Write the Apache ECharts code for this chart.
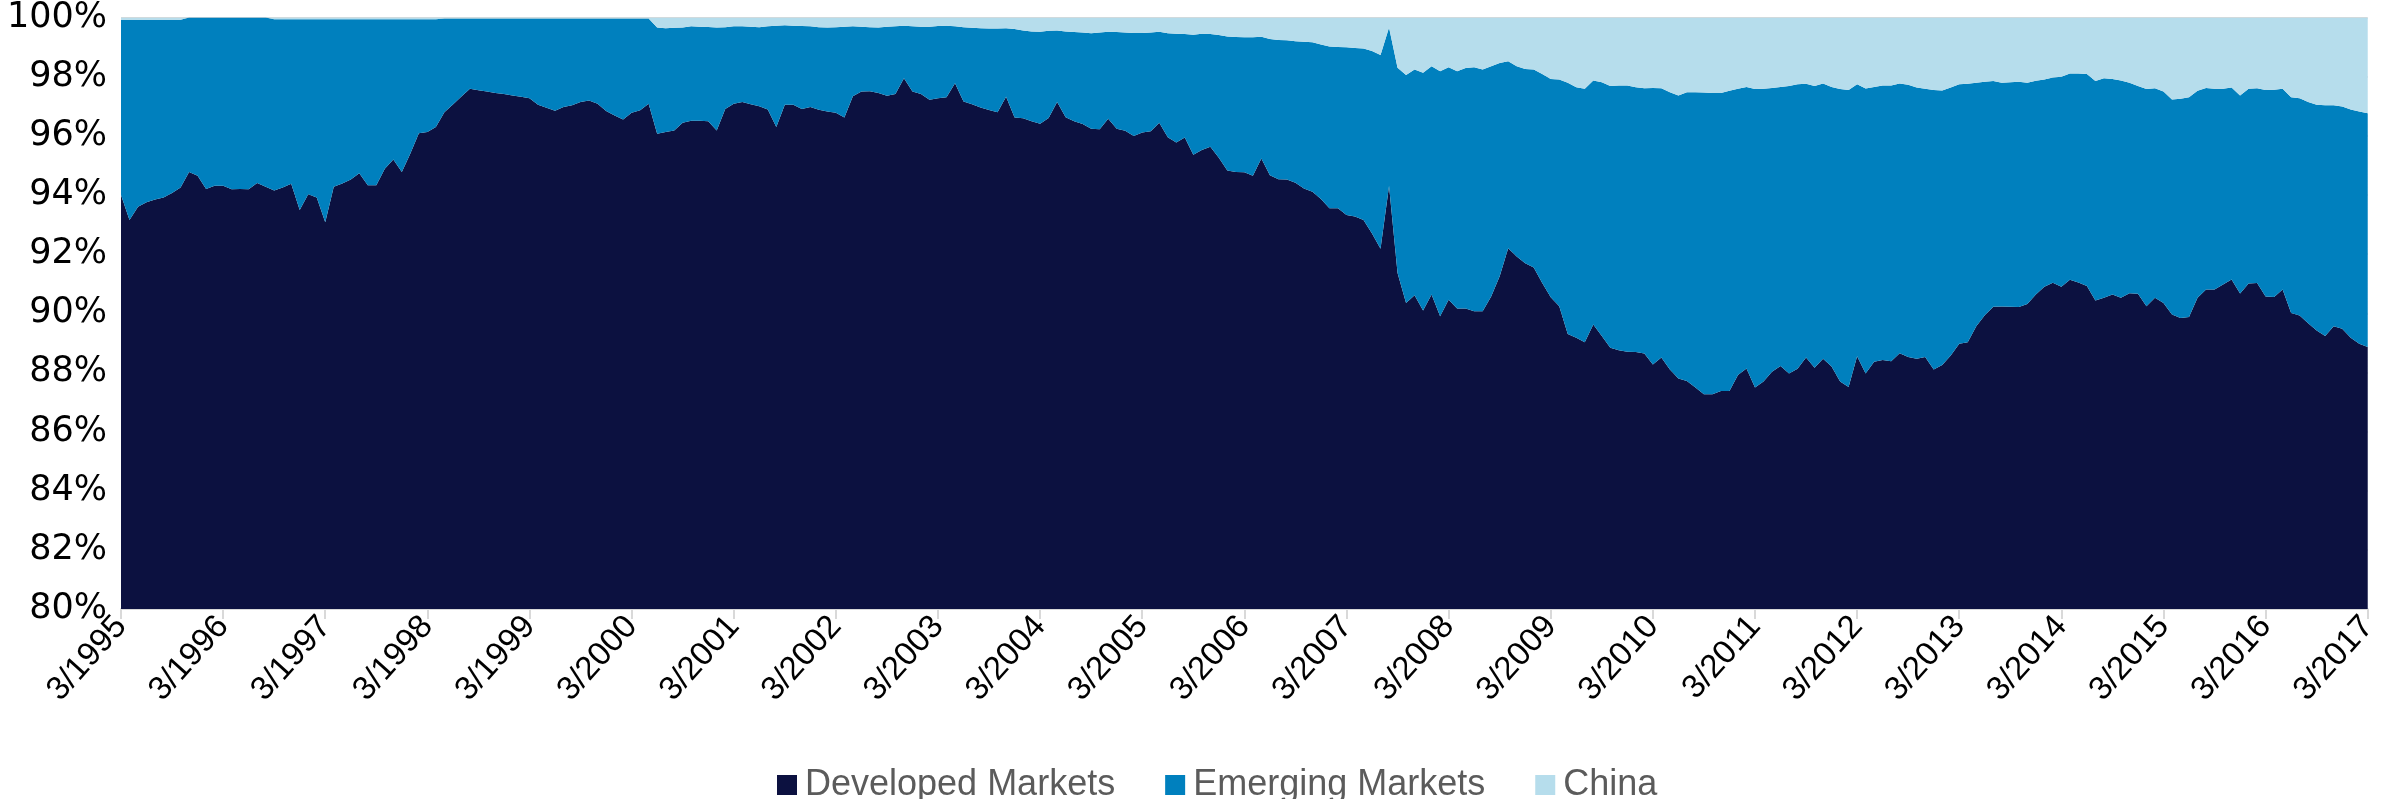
<!DOCTYPE html>
<html>
<head>
<meta charset="utf-8">
<script src="https://cdn.jsdelivr.net/npm/echarts@6/dist/echarts.min.js"></script>
<style>
  html, body { margin: 0; padding: 0; background: #fff; }
  #container { width: 2382px; height: 799px; }
</style>
</head>
<body>
<div id="container"></div>
<script>
// month labels 3/1995 .. 3/2017
var months = [];
var yy = 1995, mm = 3;
while (months.length < 265) {
    months.push(mm + '/' + yy);
    mm++;
    if (mm > 12) { mm = 1; yy++; }
}

// share of index, %
var developed = [
    94.00, 93.15, 93.60, 93.75, 93.85, 93.91, 94.07, 94.25, 94.78, 94.65, 94.20, 94.31,
    94.31, 94.19, 94.20, 94.19, 94.40, 94.28, 94.15, 94.25, 94.38, 93.49, 94.02, 93.91,
    93.08, 94.28, 94.39, 94.52, 94.73, 94.33, 94.33, 94.89, 95.20, 94.78, 95.40, 96.09,
    96.13, 96.30, 96.80, 97.06, 97.33, 97.59, 97.54, 97.50, 97.45, 97.41, 97.36, 97.32,
    97.27, 97.05, 96.95, 96.85, 96.97, 97.03, 97.14, 97.19, 97.08, 96.84, 96.69, 96.55,
    96.78, 96.86, 97.08, 96.07, 96.13, 96.18, 96.44, 96.51, 96.51, 96.49, 96.18, 96.91,
    97.08, 97.14, 97.07, 97.00, 96.89, 96.30, 97.05, 97.05, 96.91, 96.97, 96.88, 96.82,
    96.78, 96.62, 97.34, 97.50, 97.51, 97.45, 97.35, 97.41, 97.95, 97.50, 97.41, 97.22,
    97.27, 97.30, 97.78, 97.16, 97.07, 96.96, 96.87, 96.80, 97.32, 96.62, 96.59, 96.49,
    96.41, 96.60, 97.14, 96.63, 96.49, 96.40, 96.24, 96.22, 96.58, 96.24, 96.17, 95.99,
    96.11, 96.15, 96.44, 95.95, 95.77, 95.94, 95.36, 95.52, 95.63, 95.26, 94.83, 94.78,
    94.77, 94.65, 95.23, 94.67, 94.53, 94.52, 94.41, 94.22, 94.11, 93.86, 93.55, 93.55,
    93.32, 93.27, 93.15, 92.70, 92.18, 94.30, 91.36, 90.35, 90.61, 90.09, 90.63, 89.90,
    90.46, 90.16, 90.16, 90.07, 90.07, 90.57, 91.25, 92.20, 91.92, 91.69, 91.55, 91.02,
    90.54, 90.24, 89.30, 89.17, 89.02, 89.62, 89.23, 88.83, 88.75, 88.70, 88.69, 88.64,
    88.27, 88.50, 88.10, 87.79, 87.71, 87.49, 87.26, 87.26, 87.37, 87.37, 87.91, 88.13,
    87.49, 87.69, 88.02, 88.22, 87.96, 88.12, 88.50, 88.16, 88.46, 88.20, 87.69, 87.51,
    88.55, 87.96, 88.36, 88.42, 88.38, 88.65, 88.52, 88.46, 88.52, 88.10, 88.25, 88.57,
    88.97, 89.02, 89.56, 89.93, 90.22, 90.23, 90.22, 90.21, 90.31, 90.63, 90.90, 91.03,
    90.90, 91.13, 91.04, 90.92, 90.43, 90.52, 90.63, 90.52, 90.68, 90.66, 90.24, 90.52,
    90.35, 89.96, 89.84, 89.87, 90.52, 90.80, 90.80, 90.97, 91.14, 90.67, 91.01, 91.02,
    90.57, 90.55, 90.80, 90.01, 89.92, 89.66, 89.42, 89.23, 89.56, 89.48, 89.17, 88.97,
    88.86
];
var emerging = [
    5.92, 6.77, 6.32, 6.17, 6.07, 6.01, 5.85, 5.67, 5.22, 5.35, 5.80, 5.69,
    5.69, 5.81, 5.80, 5.81, 5.60, 5.72, 5.79, 5.69, 5.56, 6.45, 5.92, 6.03,
    6.86, 5.66, 5.55, 5.42, 5.21, 5.61, 5.61, 5.05, 4.74, 5.16, 4.54, 3.85,
    3.81, 3.64, 3.17, 2.91, 2.64, 2.38, 2.43, 2.47, 2.52, 2.56, 2.61, 2.65,
    2.70, 2.92, 3.02, 3.12, 3.00, 2.94, 2.83, 2.78, 2.89, 3.13, 3.28, 3.42,
    3.19, 3.11, 2.89, 3.59, 3.51, 3.47, 3.22, 3.19, 3.18, 3.19, 3.48, 2.76,
    2.62, 2.56, 2.62, 2.67, 2.81, 3.42, 2.69, 2.67, 2.80, 2.73, 2.79, 2.84,
    2.89, 3.07, 2.36, 2.19, 2.16, 2.21, 2.34, 2.29, 1.77, 2.20, 2.28, 2.47,
    2.44, 2.42, 1.92, 2.51, 2.58, 2.68, 2.76, 2.83, 2.32, 2.99, 2.97, 3.04,
    3.11, 2.95, 2.42, 2.90, 3.02, 3.09, 3.23, 3.27, 2.94, 3.27, 3.32, 3.49,
    3.37, 3.34, 3.08, 3.52, 3.68, 3.50, 4.06, 3.93, 3.81, 4.15, 4.53, 4.56,
    4.56, 4.68, 4.12, 4.60, 4.71, 4.71, 4.79, 4.96, 5.05, 5.23, 5.47, 5.45,
    5.67, 5.70, 5.80, 6.17, 6.55, 5.36, 6.94, 7.71, 7.63, 8.04, 7.72, 8.28,
    7.86, 8.02, 8.13, 8.25, 8.17, 7.78, 7.21, 6.32, 6.43, 6.57, 6.69, 7.07,
    7.38, 7.66, 8.49, 8.47, 8.57, 8.25, 8.58, 8.85, 8.95, 9.00, 8.95, 8.97,
    9.35, 9.11, 9.37, 9.57, 9.76, 9.98, 10.20, 10.19, 10.08, 10.15, 9.68, 9.52,
    10.09, 9.90, 9.60, 9.43, 9.72, 9.62, 9.26, 9.52, 9.31, 9.45, 9.89, 10.04,
    9.19, 9.64, 9.29, 9.28, 9.32, 9.12, 9.21, 9.17, 9.07, 9.45, 9.28, 9.06,
    8.77, 8.74, 8.23, 7.90, 7.63, 7.56, 7.59, 7.62, 7.48, 7.23, 7.00, 6.94,
    7.10, 6.98, 7.07, 7.17, 7.42, 7.43, 7.29, 7.35, 7.11, 7.02, 7.34, 7.09,
    7.15, 7.27, 7.41, 7.43, 7.00, 6.82, 6.79, 6.62, 6.49, 6.69, 6.58, 6.59,
    6.98, 7.01, 6.79, 7.29, 7.35, 7.48, 7.63, 7.80, 7.47, 7.51, 7.72, 7.85,
    7.90
];
var china = [
    0.08, 0.08, 0.08, 0.08, 0.08, 0.08, 0.08, 0.08, 0.00, 0.00, 0.00, 0.00,
    0.00, 0.00, 0.00, 0.00, 0.00, 0.00, 0.06, 0.06, 0.06, 0.06, 0.06, 0.06,
    0.06, 0.06, 0.06, 0.06, 0.06, 0.06, 0.06, 0.06, 0.06, 0.06, 0.06, 0.06,
    0.06, 0.06, 0.03, 0.03, 0.03, 0.03, 0.03, 0.03, 0.03, 0.03, 0.03, 0.03,
    0.03, 0.03, 0.03, 0.03, 0.03, 0.03, 0.03, 0.03, 0.03, 0.03, 0.03, 0.03,
    0.03, 0.03, 0.03, 0.34, 0.36, 0.35, 0.34, 0.30, 0.31, 0.32, 0.34, 0.33,
    0.30, 0.30, 0.31, 0.33, 0.30, 0.28, 0.26, 0.28, 0.29, 0.30, 0.33, 0.34,
    0.33, 0.31, 0.30, 0.31, 0.33, 0.34, 0.31, 0.30, 0.28, 0.30, 0.31, 0.31,
    0.29, 0.28, 0.30, 0.33, 0.35, 0.36, 0.37, 0.37, 0.36, 0.39, 0.44, 0.47,
    0.48, 0.45, 0.44, 0.47, 0.49, 0.51, 0.53, 0.51, 0.48, 0.49, 0.51, 0.52,
    0.52, 0.51, 0.48, 0.53, 0.55, 0.56, 0.58, 0.55, 0.56, 0.59, 0.64, 0.66,
    0.67, 0.67, 0.65, 0.73, 0.76, 0.77, 0.80, 0.82, 0.84, 0.91, 0.98, 1.00,
    1.01, 1.03, 1.05, 1.13, 1.27, 0.34, 1.70, 1.94, 1.76, 1.87, 1.65, 1.82,
    1.68, 1.82, 1.71, 1.68, 1.76, 1.65, 1.54, 1.48, 1.65, 1.74, 1.76, 1.91,
    2.08, 2.10, 2.21, 2.36, 2.41, 2.13, 2.19, 2.32, 2.30, 2.30, 2.36, 2.39,
    2.38, 2.39, 2.53, 2.64, 2.53, 2.53, 2.54, 2.55, 2.55, 2.48, 2.41, 2.35,
    2.42, 2.41, 2.38, 2.35, 2.32, 2.26, 2.24, 2.32, 2.23, 2.35, 2.42, 2.45,
    2.26, 2.40, 2.35, 2.30, 2.30, 2.23, 2.27, 2.37, 2.41, 2.45, 2.47, 2.37,
    2.26, 2.24, 2.21, 2.17, 2.15, 2.21, 2.19, 2.17, 2.21, 2.14, 2.10, 2.03,
    2.00, 1.89, 1.89, 1.91, 2.15, 2.05, 2.08, 2.13, 2.21, 2.32, 2.42, 2.39,
    2.50, 2.77, 2.75, 2.70, 2.48, 2.38, 2.41, 2.41, 2.37, 2.64, 2.41, 2.39,
    2.45, 2.44, 2.41, 2.70, 2.73, 2.86, 2.95, 2.97, 2.97, 3.01, 3.11, 3.18,
    3.24
];

var seriesNames = ['Developed Markets', 'Emerging Markets', 'China'];
var seriesColors = ['#0c1140', '#0080be', '#b6ddec'];

var dom = document.getElementById("container");
var myChart = echarts.init(dom, null, { renderer: 'canvas' });

function areaSeries(name, data, color) {
    return {
        name: name,
        type: 'line',
        stack: 'total',
        data: data,
        showSymbol: false,
        symbol: 'none',
        lineStyle: { width: 0 },
        areaStyle: { color: color, opacity: 1 },
        itemStyle: { color: color },
        emphasis: { disabled: true }
    };
}

var option = {
    animation: false,
    grid: { left: 121, right: 1, top: 15, bottom: 190 },
    legend: {
        data: seriesNames,
        left: 772,
        top: 762,
        icon: 'rect',
        itemWidth: 20,
        itemHeight: 20,
        itemGap: 50,
        textStyle: {
            color: '#5b5b5b',
            fontSize: 36,
            padding: [0, 0, 0, 3],
            fontFamily: 'Liberation Sans, Arial, sans-serif'
        }
    },
    xAxis: {
        type: 'category',
        boundaryGap: false,
        data: months,
        axisLine: { lineStyle: { color: '#d9d9d9', width: 2 } },
        axisTick: { interval: 11, length: 10, lineStyle: { color: '#d9d9d9', width: 2 } },
        axisLabel: {
            interval: 11,
            rotate: 48,
            margin: 12,
            color: '#000',
            fontSize: 33,
            fontFamily: 'Liberation Sans, Arial, sans-serif'
        }
    },
    yAxis: {
        type: 'value',
        min: 80,
        max: 100,
        interval: 2,
        axisLine: { show: false },
        axisTick: { show: false },
        splitLine: { show: true, lineStyle: { color: '#d9d9d9', width: 2 } },
        axisLabel: {
            formatter: '{value}%',
            margin: 14,
            color: '#000',
            fontSize: 35,
            fontFamily: 'DejaVu Sans, Liberation Sans, sans-serif'
        }
    },
    series: [
        areaSeries(seriesNames[0], developed, seriesColors[0]),
        areaSeries(seriesNames[1], emerging, seriesColors[1]),
        areaSeries(seriesNames[2], china, seriesColors[2])
    ]
};
myChart.setOption(option);
</script>
</body>
</html>
